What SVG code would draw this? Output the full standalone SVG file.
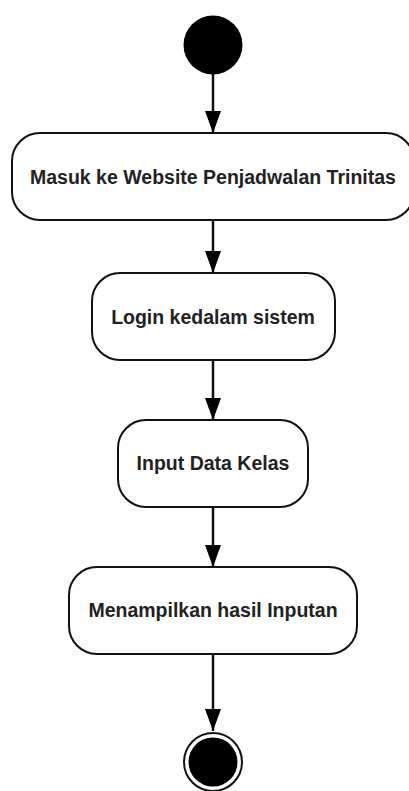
<svg xmlns="http://www.w3.org/2000/svg" width="409" height="791" viewBox="0 0 409 791">
<style>
.box{fill:#fff;stroke:#111;stroke-width:2}
.lbl{font-family:"Liberation Sans",Arial,sans-serif;font-weight:bold;font-size:19.5px;fill:#222;text-anchor:middle;dominant-baseline:central}
.edge{stroke:#111;stroke-width:2.5;fill:none;marker-end:url(#arr)}
</style>
<defs>
<marker id="arr" markerUnits="userSpaceOnUse" markerWidth="22" markerHeight="16" refX="22" refY="8" orient="auto" viewBox="0 0 22 16">
<path d="M0,0 L22,8 L0,16 Z" fill="#000"/>
</marker>
</defs>
<rect width="409" height="791" fill="#fff"/>
<g id="edges">
<line class="edge" x1="213" y1="74" x2="213" y2="133"/>
<line class="edge" x1="213" y1="220" x2="213" y2="273"/>
<line class="edge" x1="213" y1="360" x2="213" y2="420"/>
<line class="edge" x1="213" y1="507" x2="213" y2="567"/>
<line class="edge" x1="213" y1="654" x2="213" y2="731"/>
</g>
<g id="start"><circle cx="213" cy="45" r="29.5" fill="#000"/></g>
<g id="n1"><rect class="box" x="12" y="133" width="402" height="87" rx="28"/><text class="lbl" x="213" y="177">Masuk ke Website Penjadwalan Trinitas</text></g>
<g id="n2"><rect class="box" x="92" y="273" width="243" height="87" rx="28"/><text class="lbl" x="213" y="317">Login kedalam sistem</text></g>
<g id="n3"><rect class="box" x="118" y="420" width="190" height="87" rx="28"/><text class="lbl" x="213" y="463">Input Data Kelas</text></g>
<g id="n4"><rect class="box" x="69" y="567" width="288" height="87" rx="28"/><text class="lbl" x="213" y="610">Menampilkan hasil Inputan</text></g>
<g id="end"><circle cx="213" cy="762" r="29" fill="#fff" stroke="#111" stroke-width="2"/><circle cx="213" cy="762" r="24.5" fill="#000"/></g>
</svg>
